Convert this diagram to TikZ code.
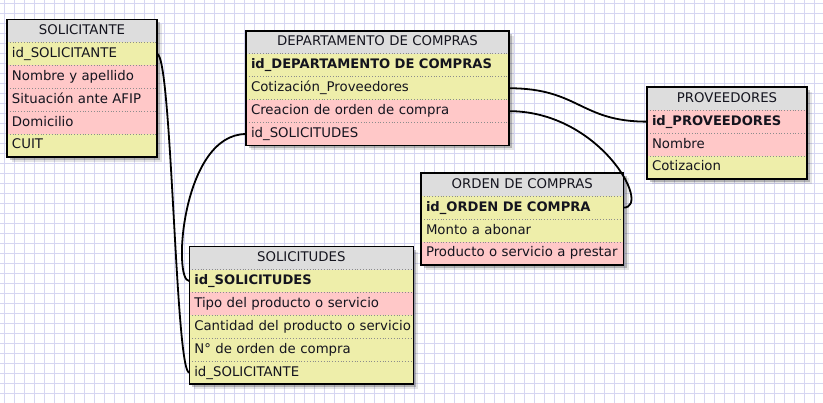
\documentclass[tikz,border=0pt]{standalone}
\usepackage{fontspec}
\setmainfont{DejaVu Sans}
\definecolor{gridc}{RGB}{214,214,242}
\definecolor{amar}{RGB}{238,238,170}
\definecolor{rosa}{RGB}{255,200,200}
\definecolor{cabc}{RGB}{221,221,221}
\definecolor{txt}{RGB}{20,20,30}
\pgfdeclarelayer{gridlayer}
\pgfdeclarelayer{shadowlayer}
\pgfsetlayers{gridlayer,shadowlayer,main}
\tikzset{
  cell/.style={anchor=north west, inner xsep=5pt, inner ysep=0pt, outer sep=0pt,
    minimum height=22.9pt, text height=9.8pt, text depth=2.8pt, align=left,
    text=txt, font=\fontsize{13.3}{15}\selectfont},
  cab/.style={cell, fill=cabc, align=center},
  am/.style={cell, fill=amar},
  ro/.style={cell, fill=rosa},
  pk/.style={font=\fontsize{13.1}{15}\selectfont\bfseries},
  marco/.style={draw=black, line width=1.6pt},
  sep/.style={draw=black!45, line width=0.8pt, dotted},
  sombra/.style={fill=black, opacity=0.22},
  sombra2/.style={fill=black, opacity=0.10},
  rel/.style={draw=black, line width=1.8pt},
  gridline/.style={draw=gridc, line width=1pt}
}
\begin{document}
\begin{tikzpicture}[x=1pt,y=-1pt]
\useasboundingbox (0,0) rectangle (823,403);
\begin{pgfonlayer}{gridlayer}
  \fill[white] (0,0) rectangle (823,403);
  \foreach \i in {4,14,...,824} \draw[gridline] (\i,0) -- (\i,403);
  \foreach \j in {4,14,...,404} \draw[gridline] (0,\j) -- (823,\j);
\end{pgfonlayer}

% SOLICITANTE
\node[cab, text width=140pt] (sa0) at (7,19.5) {SOLICITANTE};
\node[am, text width=140pt] (sa1) at (sa0.south west) {id\_SOLICITANTE};
\node[ro, text width=140pt] (sa2) at (sa1.south west) {Nombre y apellido};
\node[ro, text width=140pt] (sa3) at (sa2.south west) {Situación ante AFIP};
\node[ro, text width=140pt] (sa4) at (sa3.south west) {Domicilio};
\node[am, text width=140pt] (sa5) at (sa4.south west) {CUIT};

% DEPARTAMENTO DE COMPRAS
\begin{scope}[every node/.append style={minimum height=22.6pt}]
\node[cab, text width=253pt] (de0) at (246,31) {DEPARTAMENTO DE COMPRAS};
\node[am, pk, text width=253pt] (de1) at (de0.south west) {id\_DEPARTAMENTO DE COMPRAS};
\node[am, text width=253pt] (de2) at (de1.south west) {Cotización\_Proveedores};
\node[ro, text width=253pt] (de3) at (de2.south west) {Creacion de orden de compra};
\node[ro, text width=253pt] (de4) at (de3.south west) {id\_SOLICITUDES};
\end{scope}

% PROVEEDORES
\begin{scope}[every node/.append style={minimum height=23pt}]
\node[cab, text width=150pt] (pr0) at (647,87.3) {PROVEEDORES};
\node[ro, pk, text width=150pt] (pr1) at (pr0.south west) {id\_PROVEEDORES};
\node[ro, text width=150pt] (pr2) at (pr1.south west) {Nombre};
\node[am, text width=150pt] (pr3) at (pr2.south west) {Cotizacion};
\end{scope}

% ORDEN DE COMPRAS
\node[cab, text width=192.5pt] (or0) at (421,173.3) {ORDEN DE COMPRAS};
\node[am, pk, text width=192.5pt] (or1) at (or0.south west) {id\_ORDEN DE COMPRA};
\node[am, text width=192.5pt] (or2) at (or1.south west) {Monto a abonar};
\node[ro, text width=192.5pt] (or3) at (or2.south west) {\mbox{Producto o servicio a prestar}};

% SOLICITUDES
\node[cab, text width=214pt] (su0) at (189.3,246.7) {SOLICITUDES};
\node[am, pk, text width=214pt] (su1) at (su0.south west) {id\_SOLICITUDES};
\node[ro, text width=214pt] (su2) at (su1.south west) {Tipo del producto o servicio};
\node[am, text width=214pt] (su3) at (su2.south west) {\mbox{Cantidad del producto o servicio}};
\node[am, text width=214pt] (su4) at (su3.south west) {N° de orden de compra};
\node[am, text width=214pt] (su5) at (su4.south west) {id\_SOLICITANTE};

% separators
\foreach \n in {sa0,sa1,sa2,sa3,sa4,de0,de1,de2,de3,pr0,pr1,pr2,or0,or1,or2,su0,su1,su2,su3,su4}
  \draw[sep] (\n.south west) -- (\n.south east);

% frames and shadows
\foreach \a/\b in {sa0/sa5,de0/de4,pr0/pr3,or0/or3,su0/su5}{
  \begin{pgfonlayer}{shadowlayer}
    \fill[sombra2] ([shift={(5,5)}]\a.north west) rectangle ([shift={(5,5)}]\b.south east);
    \fill[sombra] ([shift={(3,3)}]\a.north west) rectangle ([shift={(3,3)}]\b.south east);
  \end{pgfonlayer}
  \draw[marco] (\a.north west) rectangle (\b.south east);
}

% relations
\draw[rel] (sa1.east) .. controls +(15,0) and +(-14,0) .. (su5.west);
\draw[rel] (de4.west) .. controls +(-64,0) and +(-17,0) .. (su1.west);
\draw[rel] (de2.east) .. controls +(70,0) and +(-67,0) .. (pr1.west);
\draw[rel] (de3.east) .. controls +(91,0) and +(29,0) .. (or1.east);
\end{tikzpicture}
\end{document}
